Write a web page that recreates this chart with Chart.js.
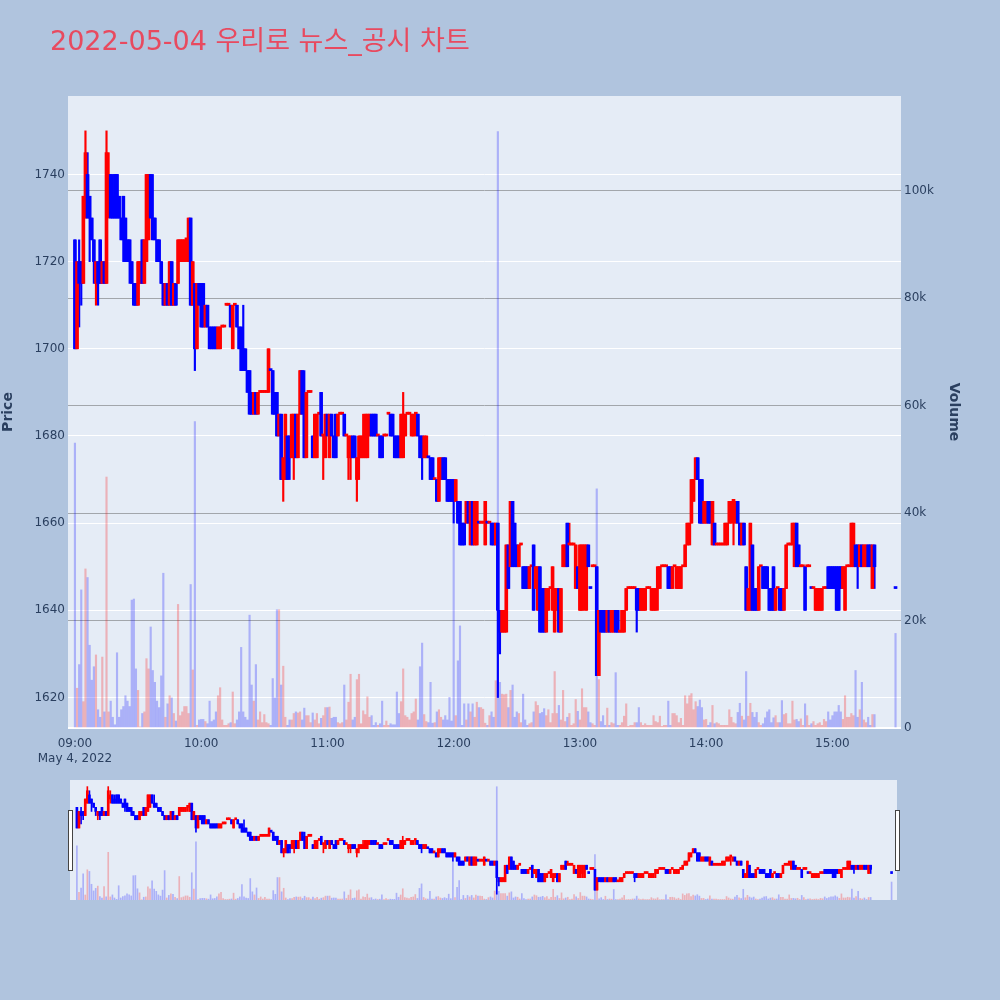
<!DOCTYPE html>
<html>
<head>
<meta charset="utf-8">
<script src="https://cdn.jsdelivr.net/npm/chart.js@4.4.1/dist/chart.umd.min.js"></script>
<style>
  body { margin: 0; background: #b0c4de; width: 1000px; height: 1000px; overflow: hidden; position: relative; }
  #main { position: absolute; left: 0; top: 0; }
  #slider { position: absolute; left: 66px; top: 780px; }
  #title { position: absolute; left: 50px; top: 27px; font-family: 'DejaVu Sans', 'Noto Sans CJK KR', sans-serif;
           font-size: 27px; line-height: 1; color: #e84a5f; white-space: nowrap; }
</style>
</head>
<body>
<canvas id="main" width="1000" height="1000"></canvas>
<canvas id="slider" width="835" height="120"></canvas>
<div id="title">2022-05-04 우리로 뉴스_공시 차트</div>
<script>
const FONT = "'DejaVu Sans', 'Noto Sans CJK KR', sans-serif";
const TXT = '#2a3f5f';
const UP = '#ff0000';
const DOWN = '#0000ff';

// minutes after 09:00 -> regular session 09:00-15:20 then the 15:30 close
const minutes = [];
for (let m = 0; m <= 380; m++) minutes.push(m);
minutes.push(390);

const open = [
  1725,1700,1720,1720,1715,1730,1740,1735,1730,1725, 1715,1720,1725,1715,1720,1715,1735,1740,1735,1740,
  1740,1735,1730,1735,1730,1725,1725,1720,1715,1715, 1710,1715,1725,1715,1720,1725,1740,1730,1730,1725,
  1725,1720,1715,1710,1715,1710,1720,1710,1715,1715, 1720,1720,1720,1725,1720,1730,1710,1715,1700,1715,
  1715,1715,1705,1710,1705,1705,1705,1705,1700,1700, 1705,1705,1710,1710,1710,1700,1710,1710,1705,1705,
  1700,1700,1695,1695,1690,1685,1690,1685,1690,1690, 1690,1690,1690,1695,1695,1690,1690,1680,1685,1670,
  1670,1680,1680,1675,1675,1685,1675,1685,1695,1690, 1675,1690,1690,1680,1675,1675,1685,1690,1680,1675,
  1685,1675,1685,1680,1685,1680,1685,1685,1685,1680, 1675,1675,1680,1680,1670,1675,1675,1675,1675,1675,
  1680,1685,1685,1685,1680,1680,1680,1680,1680,1685, 1685,1685,1680,1680,1680,1675,1675,1680,1685,1685,
  1680,1680,1685,1685,1680,1680,1675,1675,1675,1675, 1675,1670,1670,1665,1670,1675,1675,1670,1670,1670,
  1670,1665,1665,1665,1660,1660,1660,1665,1655,1665, 1655,1655,1660,1660,1660,1655,1660,1660,1660,1660,
  1655,1660,1640,1635,1635,1635,1655,1650,1665,1660, 1655,1650,1655,1650,1650,1650,1645,1650,1655,1645,
  1640,1650,1645,1645,1635,1640,1645,1640,1635,1640, 1645,1635,1650,1650,1660,1655,1655,1655,1645,1650,
  1640,1640,1645,1640,1655,1645,1650,1650,1650,1625, 1640,1640,1640,1635,1640,1635,1635,1640,1640,1635,
  1635,1635,1640,1645,1645,1645,1645,1645,1645,1640, 1640,1640,1645,1645,1640,1640,1640,1645,1645,1650,
  1650,1650,1650,1650,1645,1650,1645,1645,1645,1650, 1650,1655,1655,1660,1665,1670,1675,1670,1670,1660,
  1660,1665,1665,1655,1660,1655,1655,1655,1655,1655, 1655,1660,1660,1665,1660,1665,1660,1655,1660,1650,
  1640,1640,1655,1645,1645,1640,1650,1650,1650,1650, 1645,1645,1650,1640,1645,1645,1645,1640,1645,1655,
  1655,1655,1650,1660,1655,1650,1650,1650,1650,1650, 1645,1645,1640,1640,1640,1640,1645,1645,1650,1650,
  1650,1650,1650,1650,1650,1645,1640,1650,1650,1650, 1650,1655,1655,1650,1655,1650,1650,1655,1655,1645,
  1655, 1645
];
const high = [
  1725,1720,1725,1720,1735,1750,1745,1735,1730,1725, 1720,1720,1725,1720,1720,1750,1745,1740,1740,1740,
  1740,1735,1730,1735,1730,1725,1725,1720,1715,1715, 1720,1720,1725,1725,1740,1740,1740,1740,1730,1725,
  1725,1720,1715,1715,1715,1720,1720,1715,1715,1725, 1725,1725,1725,1725,1730,1730,1720,1715,1715,1715,
  1715,1715,1710,1710,1705,1705,1705,1705,1705,1705, 1705,1705,1710,1710,1710,1710,1710,1710,1705,1705,
  1710,1700,1695,1695,1690,1690,1690,1690,1690,1690, 1690,1690,1700,1695,1695,1690,1690,1685,1685,1675,
  1685,1680,1680,1685,1685,1685,1685,1695,1695,1695, 1690,1690,1690,1680,1685,1685,1685,1690,1680,1685,
  1685,1685,1685,1680,1685,1685,1685,1685,1685,1680, 1680,1680,1680,1680,1675,1680,1680,1685,1685,1685,
  1685,1685,1685,1685,1680,1680,1680,1680,1680,1685, 1685,1685,1680,1680,1680,1685,1690,1685,1685,1685,
  1685,1685,1685,1685,1680,1680,1680,1680,1675,1675, 1675,1670,1670,1675,1675,1675,1675,1670,1670,1670,
  1670,1670,1665,1665,1660,1660,1665,1665,1665,1665, 1665,1665,1660,1660,1660,1665,1660,1660,1660,1660,
  1660,1660,1640,1640,1640,1655,1655,1665,1665,1660, 1655,1655,1655,1650,1650,1650,1650,1650,1655,1650,
  1650,1650,1645,1645,1645,1645,1645,1650,1645,1645, 1645,1645,1655,1655,1660,1660,1655,1655,1655,1650,
  1655,1655,1655,1655,1655,1645,1650,1650,1650,1640, 1640,1640,1640,1640,1640,1640,1640,1640,1640,1635,
  1640,1640,1645,1645,1645,1645,1645,1645,1645,1645, 1645,1645,1645,1645,1645,1645,1645,1650,1650,1650,
  1650,1650,1650,1650,1650,1650,1650,1650,1650,1650, 1655,1660,1660,1670,1670,1675,1675,1670,1670,1665,
  1665,1665,1665,1665,1660,1655,1655,1655,1655,1660, 1660,1665,1665,1665,1665,1665,1660,1660,1660,1650,
  1645,1660,1655,1645,1645,1650,1650,1650,1650,1650, 1645,1645,1650,1645,1645,1645,1645,1645,1655,1655,
  1655,1660,1660,1660,1655,1650,1650,1650,1650,1650, 1645,1645,1645,1645,1645,1645,1645,1645,1650,1650,
  1650,1650,1650,1650,1650,1650,1650,1650,1650,1660, 1660,1655,1655,1655,1655,1655,1655,1655,1655,1655,
  1655, 1645
];
const low = [
  1700,1700,1705,1710,1715,1730,1730,1720,1725,1715, 1710,1710,1715,1715,1715,1715,1730,1730,1730,1730,
  1730,1730,1725,1720,1720,1720,1715,1715,1710,1710, 1710,1715,1715,1715,1720,1725,1730,1725,1725,1720,
  1720,1715,1710,1710,1710,1710,1710,1710,1710,1715, 1720,1720,1720,1720,1720,1710,1710,1695,1700,1710,
  1705,1705,1705,1705,1700,1700,1700,1700,1700,1700, 1705,1705,1710,1710,1705,1700,1710,1705,1700,1695,
  1695,1695,1690,1685,1685,1685,1685,1685,1690,1690, 1690,1690,1690,1695,1685,1685,1680,1680,1670,1665,
  1670,1670,1670,1675,1670,1675,1675,1685,1685,1675, 1675,1690,1690,1675,1675,1675,1685,1680,1670,1675,
  1680,1675,1680,1675,1675,1680,1685,1685,1680,1680, 1670,1670,1675,1675,1665,1670,1675,1675,1675,1675,
  1680,1680,1680,1680,1680,1675,1675,1680,1680,1685, 1680,1680,1675,1675,1675,1675,1675,1680,1685,1685,
  1680,1680,1680,1680,1675,1670,1675,1675,1675,1670, 1670,1670,1665,1665,1670,1670,1670,1665,1665,1665,
  1660,1665,1660,1655,1655,1655,1660,1660,1655,1655, 1655,1655,1660,1660,1660,1655,1660,1660,1655,1655,
  1655,1620,1630,1635,1635,1635,1645,1650,1650,1650, 1650,1650,1655,1645,1645,1645,1645,1650,1640,1645,
  1640,1635,1635,1635,1635,1640,1645,1640,1635,1640, 1635,1635,1650,1650,1650,1655,1655,1655,1645,1645,
  1640,1640,1640,1640,1650,1645,1650,1650,1625,1625, 1635,1635,1635,1635,1635,1635,1635,1635,1635,1635,
  1635,1635,1640,1645,1645,1645,1645,1635,1640,1640, 1640,1640,1645,1645,1640,1640,1640,1640,1645,1650,
  1650,1650,1645,1645,1645,1650,1645,1645,1645,1650, 1650,1655,1655,1660,1665,1670,1670,1660,1660,1660,
  1660,1660,1660,1655,1655,1655,1655,1655,1655,1655, 1655,1660,1660,1655,1660,1660,1655,1655,1655,1640,
  1640,1640,1640,1640,1640,1640,1650,1645,1645,1645, 1640,1640,1640,1640,1645,1640,1640,1640,1645,1655,
  1655,1655,1650,1650,1650,1650,1650,1640,1650,1650, 1645,1645,1640,1640,1640,1640,1645,1645,1645,1645,
  1645,1645,1640,1640,1645,1645,1640,1650,1650,1650, 1650,1650,1645,1650,1650,1650,1650,1650,1650,1645,
  1645, 1645
];
const close = [
  1700,1720,1715,1715,1735,1745,1730,1730,1725,1720, 1720,1715,1715,1720,1715,1745,1740,1730,1730,1730,
  1730,1730,1725,1725,1720,1720,1720,1715,1710,1710, 1720,1720,1715,1725,1740,1740,1730,1725,1725,1720,
  1720,1715,1710,1715,1710,1720,1710,1715,1710,1725, 1725,1725,1725,1725,1730,1710,1720,1700,1715,1710,
  1705,1705,1710,1705,1700,1700,1700,1700,1705,1705, 1705,1705,1710,1710,1705,1710,1710,1705,1700,1695,
  1695,1695,1690,1685,1685,1690,1685,1690,1690,1690, 1690,1690,1700,1695,1685,1685,1680,1685,1670,1675,
  1685,1670,1675,1685,1685,1675,1685,1695,1685,1675, 1690,1690,1690,1675,1685,1685,1685,1680,1680,1685,
  1680,1685,1680,1675,1675,1685,1685,1685,1680,1680, 1680,1680,1675,1675,1675,1680,1680,1680,1685,1685,
  1685,1680,1680,1680,1680,1675,1675,1680,1680,1685, 1680,1680,1675,1675,1675,1685,1685,1685,1685,1685,
  1685,1685,1685,1680,1675,1675,1680,1680,1675,1670, 1670,1670,1665,1675,1675,1670,1670,1665,1665,1665,
  1665,1670,1660,1655,1655,1655,1665,1660,1665,1655, 1665,1665,1660,1660,1660,1665,1660,1660,1655,1655,
  1660,1640,1635,1640,1640,1655,1645,1665,1650,1650, 1650,1655,1655,1645,1645,1645,1650,1650,1640,1650,
  1650,1635,1635,1635,1645,1645,1645,1650,1645,1645, 1635,1645,1655,1655,1650,1655,1655,1655,1655,1645,
  1655,1655,1655,1655,1650,1645,1650,1650,1625,1640, 1635,1635,1635,1640,1635,1640,1640,1635,1635,1635,
  1640,1640,1645,1645,1645,1645,1645,1640,1640,1645, 1645,1645,1645,1645,1645,1645,1645,1650,1650,1650,
  1650,1650,1645,1645,1650,1650,1650,1650,1650,1650, 1655,1660,1660,1670,1670,1675,1670,1660,1660,1665,
  1665,1660,1660,1665,1655,1655,1655,1655,1655,1660, 1660,1665,1665,1665,1665,1660,1655,1660,1655,1640,
  1645,1660,1640,1640,1640,1650,1650,1645,1645,1645, 1640,1640,1640,1645,1645,1640,1640,1645,1655,1655,
  1655,1660,1660,1650,1650,1650,1650,1640,1650,1650, 1645,1645,1645,1645,1645,1645,1645,1645,1645,1645,
  1645,1645,1640,1640,1645,1650,1650,1650,1650,1660, 1660,1650,1650,1655,1650,1655,1655,1650,1650,1655,
  1650, 1645
];
const volume = [
  53000,7400,11800,25700,4900,29600,28000,15400,8900,11400, 13600,3400,2000,13200,3000,46700,3000,5000,2000,600,
  14000,2000,3400,4000,6000,5000,4000,23800,24000,11000, 7000,200,2700,3000,12900,11000,18800,10700,8500,5000,
  3800,9700,28800,2000,4500,6000,5600,2700,1300,23000, 2300,3000,4000,4000,2700,26700,10800,57000,500,1500,
  1600,1600,1200,800,5000,1200,1500,3000,6000,7500, 1500,500,500,800,1000,6700,800,1500,3000,15000,
  3000,2000,1500,21000,8000,5000,11800,1500,3000,1000, 2500,1000,800,500,9200,5600,22000,22000,8000,11500,
  2000,500,1500,1500,2700,3000,2800,3000,1500,3700, 2300,2300,1000,2800,1500,2700,800,1800,2300,3800,
  3800,3900,1800,2000,2000,1000,800,1000,8000,1500, 4800,10000,1500,2000,9000,10000,800,3200,2500,5800,
  2000,2300,500,1000,500,800,5000,500,1300,500, 800,600,600,6700,2700,4900,11000,2300,2000,1500,
  2700,3000,5400,1500,11400,15800,2500,1200,1000,8500, 900,1000,3000,3400,2000,1500,2300,1500,5700,1300,
  38000,2300,12500,19000,500,4500,1500,4500,3000,4500, 2000,4800,3800,3800,3500,900,500,2300,3000,2000,
  8800,111000,8500,6300,6200,6300,3800,7000,8000,2000, 3000,2700,1000,6300,1500,500,800,1000,3000,4900,
  4200,2700,2900,3600,2300,3400,1000,2700,10500,2700, 4200,1500,7000,1200,2000,2700,500,800,5300,3100,
  1500,7300,3800,3800,3000,1000,800,500,44500,9000, 1200,2300,500,3700,500,1000,800,10300,500,500,
  1000,2200,4500,300,500,500,1000,1000,3800,1000, 500,800,500,500,500,2300,1200,1000,2200,300,
  500,500,5000,500,2700,2700,2300,1000,1800,500, 6000,4500,6000,6400,3400,4900,4000,5200,3800,1500,
  1600,500,1000,4200,800,1000,800,500,500,500, 500,3400,2000,1000,800,2900,4600,2200,1500,10500,
  2200,4600,2900,2000,2900,1000,500,800,1900,3000, 3400,1000,1900,2300,1000,1000,5100,2500,2700,800,
  800,5000,1500,1600,1200,1700,500,4500,2300,500, 800,1200,500,800,1000,500,1600,1200,3000,1500,
  2300,3000,3000,4200,3000,1600,6000,2000,2000,2700, 2300,10700,2000,3400,8500,1500,1000,2000,500,2500,
  2500, 17600
];

const priceTicks = [1620, 1640, 1660, 1680, 1700, 1720, 1740];
const volumeTicks = [0, 20000, 40000, 60000, 80000, 100000];
const volumeLabels = ['0', '20k', '40k', '60k', '80k', '100k'];
const timeTicks = [0, 60, 120, 180, 240, 300, 360];
const timeLabels = ['09:00', '10:00', '11:00', '12:00', '13:00', '14:00', '15:00'];
const dateLabel = 'May 4, 2022';

// same rule as plotly: a flat candle takes the direction from the previous close
const rising = close.map((c, i) => {
  if (c !== open[i]) return c > open[i];
  return i === 0 || c >= close[i - 1];
});

function makeDatasets(bodyW, wickW, volW) {
  return [
    {
      label: 'body',
      data: minutes.map((m, i) => ({ x: m, y: [Math.min(open[i], close[i]), Math.max(open[i], close[i])] })),
      backgroundColor: rising.map(r => r ? UP : DOWN),
      barThickness: bodyW, minBarLength: 2, grouped: false, yAxisID: 'y'
    },
    {
      label: 'wick',
      data: minutes.map((m, i) => ({ x: m, y: [low[i], high[i]] })),
      backgroundColor: rising.map(r => r ? UP : DOWN),
      barThickness: wickW, grouped: false, yAxisID: 'y'
    },
    {
      label: 'volume',
      data: minutes.map((m, i) => ({ x: m, y: volume[i] })),
      backgroundColor: rising.map(r => r ? 'rgba(255,0,0,0.25)' : 'rgba(0,0,255,0.25)'),
      barThickness: volW, grouped: false, yAxisID: 'y2'
    }
  ];
}

const plotBg = {
  id: 'plotBg',
  beforeDraw(chart) {
    const { ctx, chartArea: a } = chart;
    ctx.save();
    ctx.fillStyle = '#e5ecf6';
    ctx.fillRect(a.left, a.top, a.right - a.left, a.bottom - a.top);
    ctx.restore();
  }
};

const grabbers = {
  id: 'grabbers',
  afterDraw(chart) {
    const { ctx, chartArea: a } = chart;
    ctx.save();
    ctx.fillStyle = '#ffffff';
    ctx.strokeStyle = '#444444';
    ctx.lineWidth = 1;
    [a.left - 2, a.right - 2].forEach(x => {
      ctx.fillRect(x, 30, 4, 60);
      ctx.strokeRect(x + 0.5, 30.5, 4, 60);
    });
    ctx.restore();
  }
};

const tickFont = { family: FONT, size: 12 };
const titleFont = { family: FONT, size: 14, weight: 'bold' };

new Chart(document.getElementById('main'), {
  type: 'bar',
  data: { datasets: makeDatasets(3, 1.5, 1.5) },
  options: {
    responsive: false,
    animation: false,
    devicePixelRatio: 1,
    layout: { padding: { top: 96, right: 38, left: 0, bottom: 0 } },
    plugins: { legend: { display: false }, tooltip: { enabled: false } },
    scales: {
      x: {
        type: 'linear', min: -3.3, max: 392.6, offset: false,
        grid: { display: false }, border: { display: false },
        afterBuildTicks: s => { s.ticks = timeTicks.map(v => ({ value: v })); },
        afterFit: s => { s.height = 272; },
        ticks: {
          autoSkip: false, maxRotation: 0, padding: 1, color: TXT, font: tickFont,
          callback: (v, i) => i === 0 ? [timeLabels[0], dateLabel] : timeLabels[i]
        }
      },
      y: {
        position: 'left', min: 1613, max: 1758,
        grid: { color: '#ffffff', lineWidth: 1, drawTicks: false },
        border: { display: false },
        afterBuildTicks: s => { s.ticks = priceTicks.map(v => ({ value: v })); },
        afterFit: s => { s.width = 68; },
        ticks: { padding: 3, color: TXT, font: tickFont, callback: v => String(v) },
        title: { display: true, text: 'Price', color: TXT, font: titleFont, padding: 0 }
      },
      y2: {
        position: 'right', min: 0, max: 117600,
        grid: {
          color: c => c.tick && c.tick.value === 0 ? '#ffffff' : '#a2a6ab',
          lineWidth: c => c.tick && c.tick.value === 0 ? 2 : 1,
          drawTicks: false
        },
        border: { display: false },
        afterBuildTicks: s => { s.ticks = volumeTicks.map(v => ({ value: v })); },
        afterFit: s => { s.width = 61; },
        ticks: { padding: 3, color: TXT, font: tickFont, callback: (v, i) => volumeLabels[i] },
        title: { display: true, text: 'Volume', color: TXT, font: titleFont, padding: 0 }
      }
    }
  },
  plugins: [plotBg]
});

// range slider: whole session in miniature
new Chart(document.getElementById('slider'), {
  type: 'bar',
  data: { datasets: makeDatasets(2, 1, 1) },
  options: {
    responsive: false,
    animation: false,
    devicePixelRatio: 1,
    layout: { padding: { top: 0, right: 4, left: 4, bottom: 0 } },
    plugins: { legend: { display: false }, tooltip: { enabled: false } },
    scales: {
      x: { type: 'linear', min: -3.3, max: 392.6, offset: false, display: false },
      y: { min: 1613, max: 1758, display: false },
      y2: { min: 0, max: 117600, display: false }
    }
  },
  plugins: [plotBg, grabbers]
});
</script>
</body>
</html>
